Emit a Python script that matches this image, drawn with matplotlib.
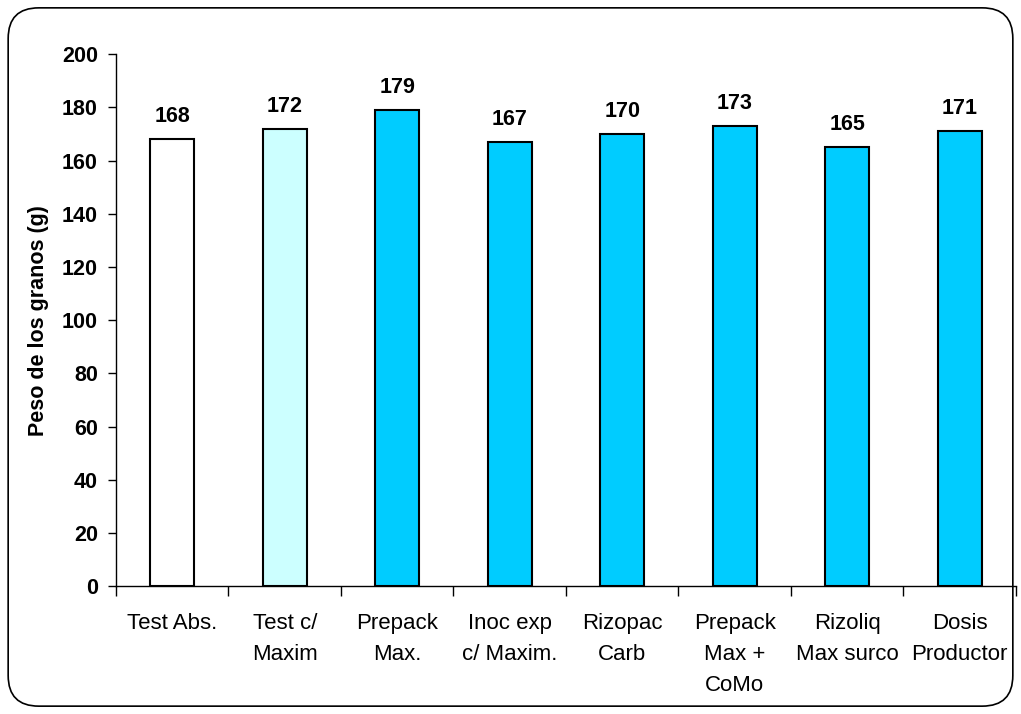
import numpy as np
import matplotlib.pyplot as plt
from matplotlib.patches import FancyBboxPatch

plt.rcParams['font.family'] = ['Liberation Sans', 'DejaVu Sans']

categories = ["Test Abs.", "Test c/\nMaxim", "Prepack\nMax.", "Inoc exp\nc/ Maxim.",
              "Rizopac\nCarb", "Prepack\nMax +\nCoMo", "Rizoliq\nMax surco", "Dosis\nProductor"]
values = [168, 172, 179, 167, 170, 173, 165, 171]
colors = ["#FFFFFF", "#CCFFFF", "#00CCFF", "#00CCFF", "#00CCFF", "#00CCFF", "#00CCFF", "#00CCFF"]

fig = plt.figure(figsize=(10.21, 7.14), dpi=100)
ax = fig.add_axes([0.1136, 0.179, 0.8814, 0.745])

x = np.arange(len(categories))
bars = ax.bar(x, values, width=0.39, color=colors, edgecolor="black", linewidth=1.5, zorder=3)

for xi, v in zip(x, values):
    ax.text(xi, v + 4.5, str(v), ha="center", va="bottom", fontsize=15.5, fontweight="bold")

ax.set_xlim(-0.5, len(categories) - 0.5)
ax.set_ylim(0, 200)
ax.set_yticks(np.arange(0, 201, 20))
ax.set_xticks(x)
ax.set_xticklabels(categories, fontsize=16, linespacing=1.65)
ax.set_xticks(np.arange(-0.5, len(categories)), minor=True)
ax.tick_params(axis="x", which="major", length=0, pad=19)
ax.tick_params(axis="x", which="minor", length=7, width=1, direction="out")
ax.tick_params(axis="y", length=6, width=1, direction="out", pad=7)
for lab in ax.get_yticklabels():
    lab.set_fontweight("bold")
    lab.set_fontsize(15.5)

ax.set_ylabel("Peso de los granos (g)", fontsize=15.5, fontweight="bold", labelpad=9)

ax.spines["top"].set_visible(False)
ax.spines["right"].set_visible(False)
ax.spines["left"].set_linewidth(1)
ax.spines["bottom"].set_linewidth(1)

border = FancyBboxPatch((0.008, 0.011), 0.984, 0.978,
                        boxstyle="round,pad=0,rounding_size=0.03",
                        transform=fig.transFigure, fill=False,
                        edgecolor="black", linewidth=1.2, mutation_aspect=1.43)
fig.patches.append(border)

fig.savefig("out.png", dpi=100)
